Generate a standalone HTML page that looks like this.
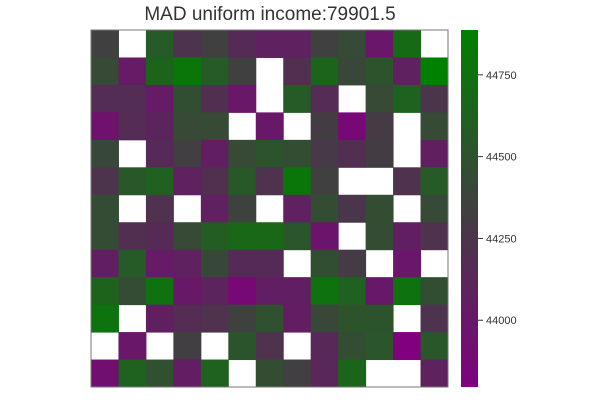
<!DOCTYPE html>
<html><head><meta charset="utf-8"><style>
body{margin:0;background:#fff;font-family:"Liberation Sans",sans-serif}
</style></head><body>
<svg id="chart" width="600" height="400" xmlns="http://www.w3.org/2000/svg">
<defs><linearGradient id="cbg" x1="0" y1="1" x2="0" y2="0">
<stop offset="0" stop-color="#800080"/><stop offset="0.5" stop-color="#404040"/><stop offset="1" stop-color="#008000"/></linearGradient></defs>
<text x="270" y="20" text-anchor="middle" font-size="19" fill="#333">MAD uniform income:79901.5</text>
<g id="cells"></g>
<rect x="91" y="30" width="357" height="357" fill="none" stroke="#777" stroke-width="1"/>
<rect x="461" y="30" width="17" height="357" fill="url(#cbg)"/>
<g id="cbticks"></g>
</svg>
<script>
const vmin = 43796, vmax = 44887;
const tickValues = [44000, 44250, 44500, 44750];
const tickLabels = ["44000", "44250", "44500", "44750"];
const N = null;
const row0 = [44340,N,44560,44230,44340,44150,44080,44080,44340,44420,43980,44700,N];
const row1 = [44430,44030,44650,44800,44560,44340,N,44200,44650,44400,44500,44080,44887];
const row2 = [44180,44180,44030,44460,44200,43990,N,44560,44170,N,44430,44620,44250];
const row3 = [43950,44170,44100,44430,44430,N,43990,N,44320,43870,44290,N,44430];
const row4 = [44410,N,44150,44330,44060,44430,44500,44450,44280,44200,44320,N,44070];
const row5 = [44240,44540,44610,44080,44210,44550,44220,44800,44340,N,N,44220,44560];
const row6 = [44440,N,44220,N,44080,44360,N,44080,44440,44260,44450,N,44420];
const row7 = [44440,44200,44160,44430,44580,44680,44680,44520,43970,N,44440,44060,44220];
const row8 = [44060,44560,44030,44080,44410,44150,44150,N,44460,44300,N,43980,N];
const row9 = [44640,44440,44760,44010,44100,43870,44050,44050,44770,44620,44000,44770,44460];
const row10 = [44770,N,44070,44170,44220,44350,44490,44040,44400,44500,44500,N,44230];
const row11 = [N,43990,N,44330,N,44510,44220,N,44140,44450,44520,43800,44540];
const row12 = [43920,44620,44480,44040,44620,N,44450,44330,44130,44660,N,N,44090];
const rows = [row0,row1,row2,row3,row4,row5,row6,row7,row8,row9,row10,row11,row12];

const x0=91, y0=30, W=357, H=357;
function color(v){
  let t=(v-vmin)/(vmax-vmin); t=Math.max(0,Math.min(1,t));
  let r,g,b;
  if(t<0.5){const s=t/0.5; r=128+(64-128)*s; g=64*s; b=128+(64-128)*s;}
  else {const s=(t-0.5)/0.5; r=64-64*s; g=64+64*s; b=64-64*s;}
  return `rgb(${Math.round(r)},${Math.round(g)},${Math.round(b)})`;
}
function cbY(v){return y0+H-(v-vmin)/(vmax-vmin)*H;}
const ns="http://www.w3.org/2000/svg";
const cells=document.getElementById('cells');
const nr=rows.length;
rows.forEach((row,i)=>{
  const nc=row.length, cw=W/nc, ch=H/nr;
  row.forEach((v,j)=>{
    if(v===null) return;
    const r=document.createElementNS(ns,'rect');
    r.setAttribute('x',x0+j*cw); r.setAttribute('y',y0+i*ch);
    r.setAttribute('width',cw+0.5); r.setAttribute('height',ch+0.5);
    r.setAttribute('fill',color(v));
    
    
    cells.appendChild(r);
  });
});
const tk=document.getElementById('cbticks');
tickValues.forEach((v,k)=>{
  const y=cbY(v);
  const l=document.createElementNS(ns,'line');
  l.setAttribute('x1',478); l.setAttribute('x2',483); l.setAttribute('y1',y); l.setAttribute('y2',y);
  l.setAttribute('stroke','#333');
  
  
  tk.appendChild(l);
  const t=document.createElementNS(ns,'text');
  t.setAttribute('x',486); t.setAttribute('y',y+4); t.setAttribute('font-size','11'); t.setAttribute('fill','#333');
  t.textContent=tickLabels[k];
  
  
  tk.appendChild(t);
});
</script>
</body></html>
